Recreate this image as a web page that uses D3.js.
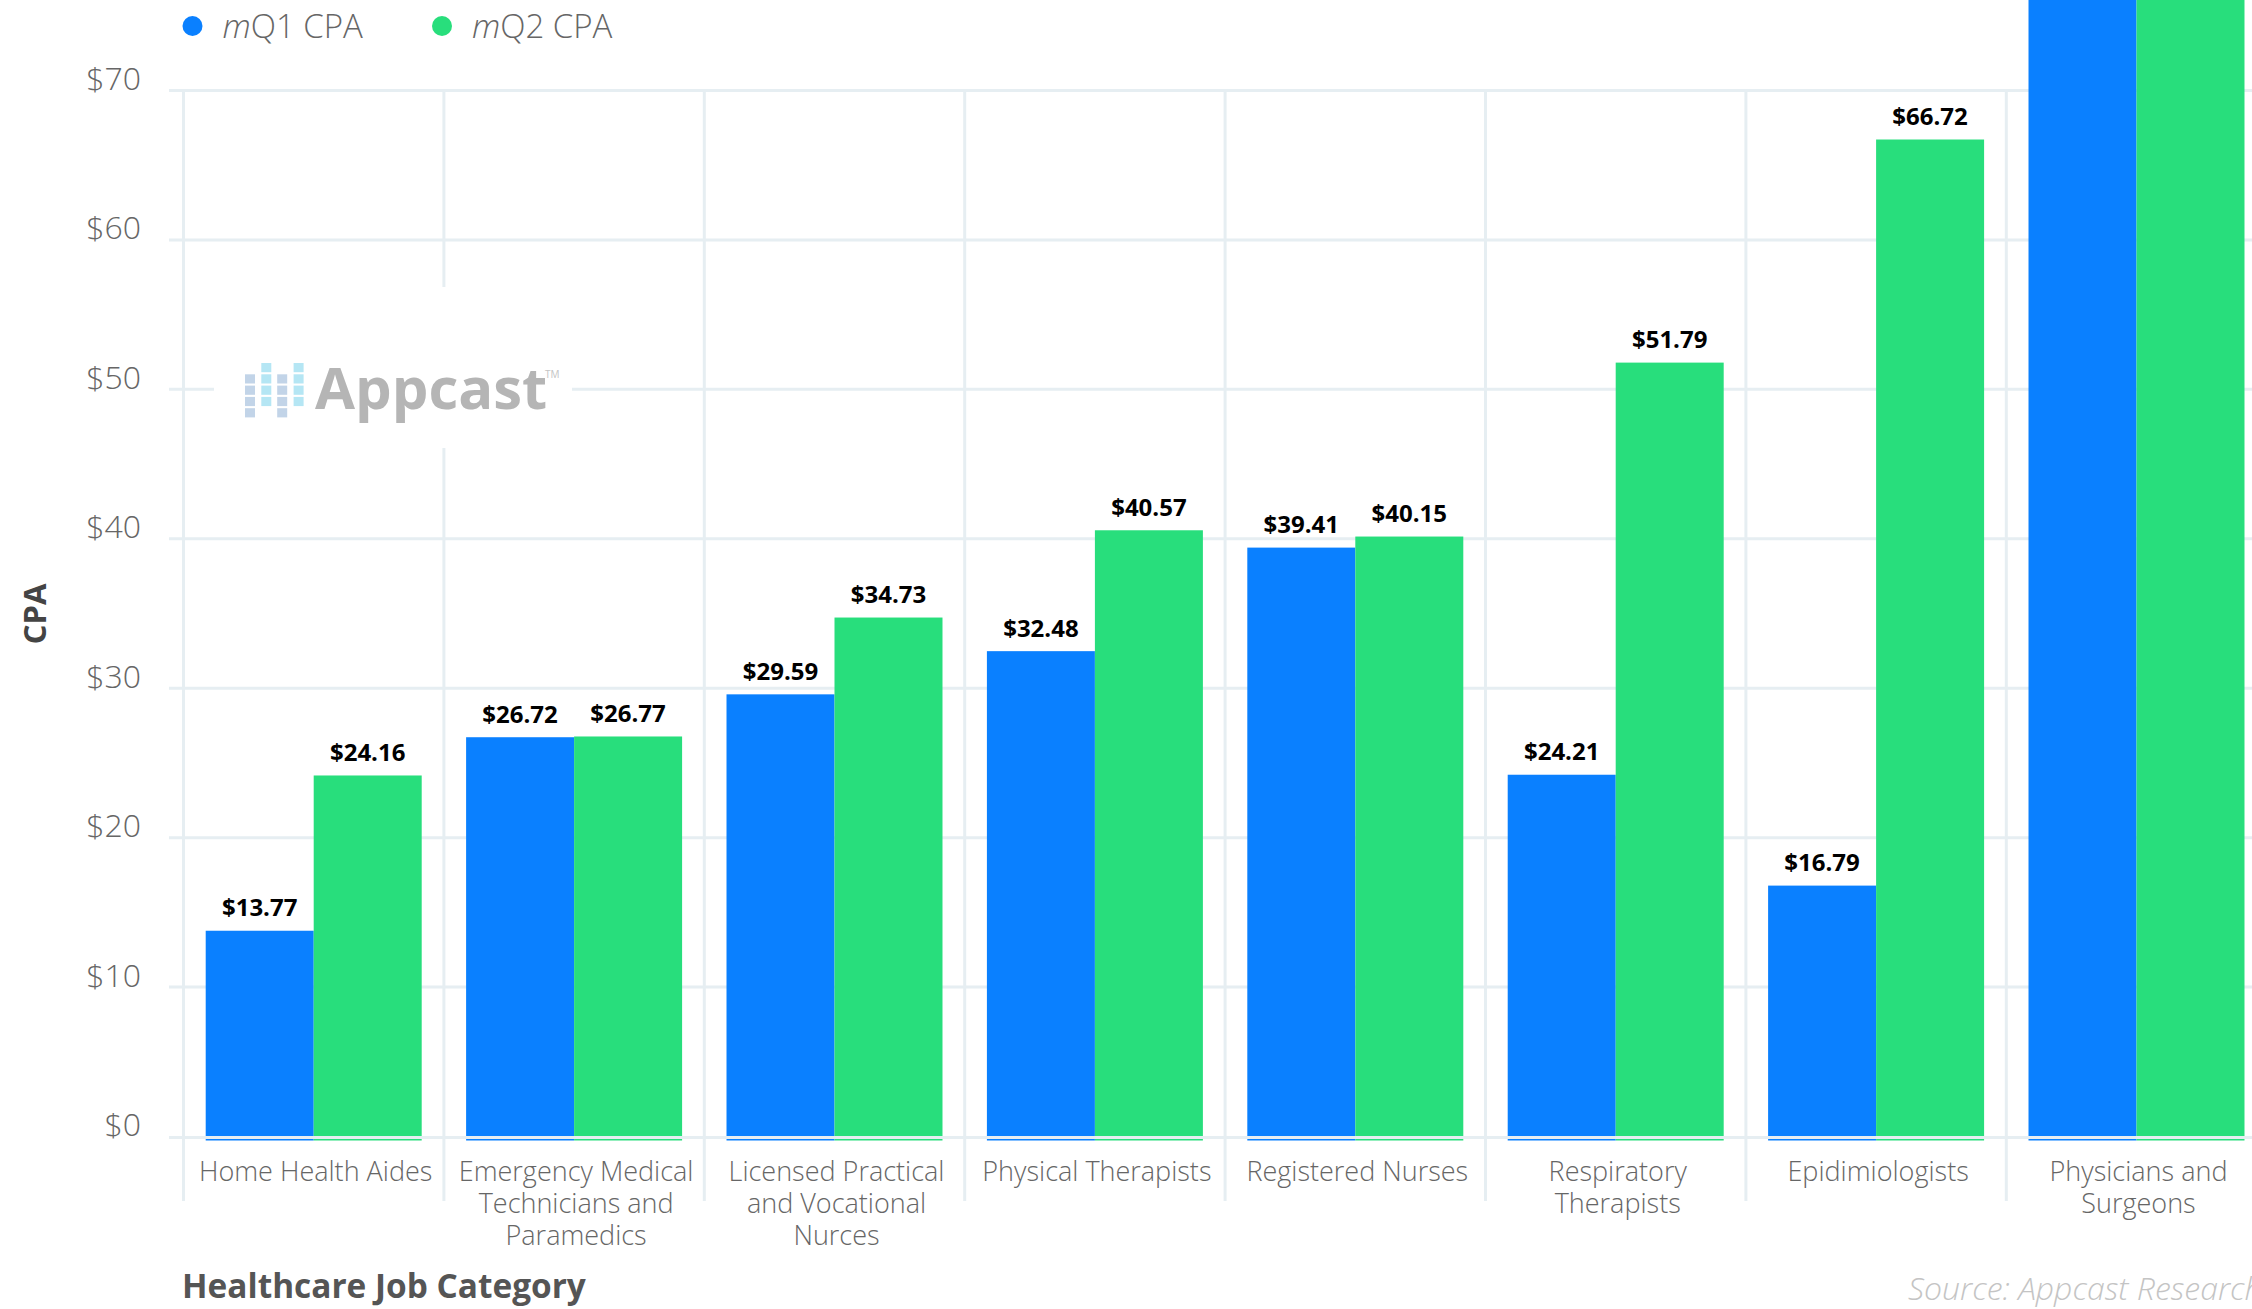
<!DOCTYPE html>
<html>
<head>
<meta charset="utf-8">
<script src="https://cdn.jsdelivr.net/npm/d3@7"></script>
<style>
  html, body { margin: 0; padding: 0; background: #ffffff; overflow: hidden; }
  svg { display: block; font-family: "Open Sans", "Noto Sans", sans-serif; }
</style>
</head>
<body>
<svg id="chart" width="2252" height="1309"></svg>
<script>
// Cost per application by healthcare job category, two periods
const categories = [
  "Home Health Aides",
  "Emergency Medical Technicians and Paramedics",
  "Licensed Practical and Vocational Nurces",
  "Physical Therapists",
  "Registered Nurses",
  "Respiratory Therapists",
  "Epidimiologists",
  "Physicians and Surgeons"
];
const q1Values = [13.77, 26.72, 29.59, 32.48, 39.41, 24.21, 16.79, 96.4];
const q2Values = [24.16, 26.77, 34.73, 40.57, 40.15, 51.79, 66.72, 101.2];
const seriesKeys = ["q1", "q2"];
const seriesLabels = ["Q1 CPA", "Q2 CPA"];
const seriesColors = ["#0a80ff", "#28de7c"];
const yTicks = [0, 10, 20, 30, 40, 50, 60, 70];

const W = 2252, H = 1309;
const gridColor = "#e6eef2";
const svg = d3.select("#chart");

const plotLeft = 183.5, bandW = 260.4;
const x = d3.scaleBand()
  .domain(categories)
  .range([plotLeft, plotLeft + bandW * categories.length])
  .padding(0);
const xs = d3.scaleBand()
  .domain(seriesKeys)
  .range([0, x.bandwidth()])
  .paddingInner(0)
  .paddingOuter(0.2056);
const y = d3.scaleLinear().domain([0, 70]).range([1136.5, 90.5]);

const rows = categories.map((c, i) => ({ cat: c, q1: q1Values[i], q2: q2Values[i] }));

// Horizontal gridlines (the zero line is drawn later, over the bars)
svg.append("g").selectAll("line")
  .data(yTicks.filter(d => d !== 0))
  .join("line")
  .attr("x1", 169).attr("x2", W)
  .attr("y1", d => y(d)).attr("y2", d => y(d))
  .attr("stroke", gridColor).attr("stroke-width", 3);

// Vertical category separators
const sepX = categories.map(c => x(c)).concat([x.range()[1]]);
svg.append("g").selectAll("line")
  .data(sepX)
  .join("line")
  .attr("x1", d => d).attr("x2", d => d)
  .attr("y1", y(70)).attr("y2", 1201)
  .attr("stroke", gridColor).attr("stroke-width", 3);

// Watermark logo on a white plate
const wm = svg.append("g");
wm.append("rect").attr("x", 214).attr("y", 287).attr("width", 358).attr("height", 161).attr("fill", "#ffffff");
const iconCols = [
  { dx: 0, rows: [1, 2, 3, 4], color: "#c2d4e8" },
  { dx: 16.3, rows: [0, 1, 2, 3], color: "#b5e6f4" },
  { dx: 32.2, rows: [1, 2, 3, 4], color: "#c2d4e8" },
  { dx: 48.6, rows: [0, 1, 2, 3], color: "#b5e6f4" }
];
iconCols.forEach(col => {
  wm.append("g").selectAll("rect")
    .data(col.rows)
    .join("rect")
    .attr("x", 245 + col.dx)
    .attr("y", r => 363 + r * 11.3)
    .attr("width", 10).attr("height", 9.2)
    .attr("fill", col.color);
});
wm.append("text")
  .attr("x", 315).attr("y", 409)
  .attr("font-size", 58).attr("font-weight", 700)
  .attr("fill", "#b5b5b5")
  .text("Appcast");
wm.append("text")
  .attr("x", 545).attr("y", 378)
  .attr("font-size", 10).attr("fill", "#c4c4c4")
  .text("TM");

// Bars
const groups = svg.append("g").selectAll("g")
  .data(rows)
  .join("g")
  .attr("transform", d => `translate(${x(d.cat)},0)`);

groups.selectAll("rect")
  .data(d => seriesKeys.map((k, i) => ({ key: k, value: d[k], color: seriesColors[i] })))
  .join("rect")
  .attr("x", d => xs(d.key))
  .attr("width", xs.bandwidth())
  .attr("y", d => y(d.value))
  .attr("height", d => y(0) + 4 - y(d.value))
  .attr("fill", d => d.color);

// Zero line over the bar bases
svg.append("line")
  .attr("x1", 169).attr("x2", W)
  .attr("y1", y(0) + 1).attr("y2", y(0) + 1)
  .attr("stroke", gridColor).attr("stroke-width", 3);

// Value labels (only where the label lands inside the drawing)
groups.selectAll("text.val")
  .data(d => seriesKeys.map(k => ({ key: k, value: d[k] })).filter(v => y(v.value) - 40 > 0))
  .join("text")
  .attr("class", "val")
  .attr("x", d => xs(d.key) + xs.bandwidth() / 2)
  .attr("y", d => y(d.value) - 14.5)
  .attr("text-anchor", "middle")
  .attr("font-size", 24).attr("font-weight", 700)
  .attr("fill", "#000000")
  .text(d => "$" + d.value.toFixed(2));

// Y axis labels
const yAxis = svg.append("g")
  .attr("transform", "translate(141,0)")
  .call(d3.axisLeft(y).tickValues(yTicks).tickFormat(d => "$" + d).tickSize(0).tickPadding(0));
yAxis.select(".domain").remove();
yAxis.selectAll("text")
  .attr("dy", "0").attr("y", -1)
  .attr("font-family", "'Open Sans', sans-serif")
  .attr("font-size", 32).attr("font-weight", 300)
  .attr("fill", "#666666");

// X axis category labels, wrapped to the band width
const xAxis = svg.append("g")
  .attr("transform", "translate(2,1181)")
  .call(d3.axisBottom(x).tickSize(0).tickPadding(0));
xAxis.select(".domain").remove();
xAxis.selectAll("text")
  .attr("dy", "0").attr("y", 0)
  .attr("font-family", "'Open Sans', sans-serif")
  .attr("font-size", 27).attr("font-weight", 300)
  .attr("fill", "#666666")
  .each(function (d) {
    const t = d3.select(this);
    const words = d.split(" ");
    t.text(null);
    const lines = [];
    let line = [];
    const probe = t.append("tspan");
    words.forEach(w => {
      const test = line.concat([w]).join(" ");
      probe.text(test);
      if (probe.node().getComputedTextLength() > 250 && line.length) {
        lines.push(line.join(" "));
        line = [w];
      } else {
        line.push(w);
      }
    });
    lines.push(line.join(" "));
    probe.remove();
    lines.forEach((l, i) => {
      t.append("tspan").attr("x", 0).attr("y", i * 31.8).text(l);
    });
  });

// Axis titles
svg.append("text")
  .attr("transform", "translate(46,614) rotate(-90)")
  .attr("text-anchor", "middle")
  .attr("font-size", 31).attr("font-weight", 700)
  .attr("fill", "#444444")
  .text("CPA");

svg.append("text")
  .attr("x", 182).attr("y", 1298)
  .attr("font-size", 33.4).attr("font-weight", 700)
  .attr("fill", "#555555")
  .text("Healthcare Job Category");

svg.append("text")
  .attr("x", 1908).attr("y", 1300)
  .attr("font-size", 32).attr("font-weight", 300).attr("font-style", "italic")
  .attr("fill", "#c4c4c4")
  .text("Source: Appcast Research");

// Legend
const legendX = [192.5, 442];
const legend = svg.append("g").selectAll("g")
  .data(seriesLabels)
  .join("g")
  .attr("transform", (d, i) => `translate(${legendX[i]},26)`);
legend.append("circle").attr("r", 10).attr("fill", (d, i) => seriesColors[i]);
const lt = legend.append("text")
  .attr("x", 30).attr("y", 12)
  .attr("font-size", 33).attr("font-weight", 300)
  .attr("fill", "#666666");
lt.append("tspan").attr("font-style", "italic").text("m");
lt.append("tspan").text(d => d);
</script>
</body>
</html>
